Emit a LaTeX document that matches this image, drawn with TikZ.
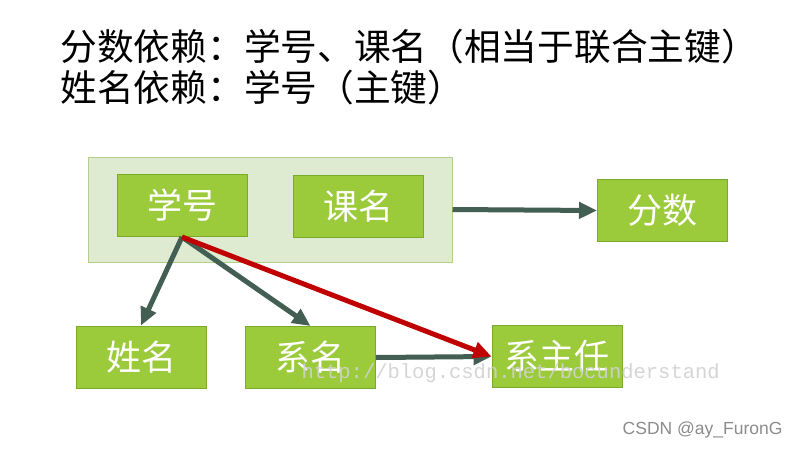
\documentclass[tikz,border=0pt]{standalone}
\usepackage{fontspec}
\usepackage{tikz}
\usetikzlibrary{arrows.meta}
\setmainfont{Liberation Sans}
\newfontfamily\cjk{Noto Sans CJK SC}
\newfontfamily\wmfont{Liberation Mono}
\definecolor{attrgreen}{RGB}{155, 203, 59}
\definecolor{attrborder}{RGB}{122, 170, 40}
\definecolor{keyfill}{RGB}{222, 235, 208}
\definecolor{keyborder}{RGB}{178, 208, 138}
\definecolor{depgray}{RGB}{67, 94, 82}
\definecolor{depred}{RGB}{192, 0, 0}

\begin{document}
\begin{tikzpicture}[x=1pt, y=-1pt,
  attr/.style={draw=attrborder, fill=attrgreen, line width=1pt, text=white,
    font=\cjk\fontsize{35}{35}\selectfont, minimum width=130pt, minimum height=62pt, inner sep=0pt},
  dep/.style={-{Triangle[length=18pt,width=16pt]}, line width=5pt, depgray},
  depkey/.style={dep, depred}]
\useasboundingbox[fill=white] (0,0) rectangle (800,450);

% Title lines
\node[anchor=west, font=\cjk\fontsize{36.7}{36.7}\selectfont] (line1) at (57,47) {分数依赖：学号、课名（相当于联合主键）};
\node[anchor=west, font=\cjk\fontsize{36.7}{36.7}\selectfont] (line2) at (57,88) {姓名依赖：学号（主键）};

% Joint key
\node[draw=keyborder, fill=keyfill, line width=1pt, minimum width=364pt, minimum height=105pt] (key) at (270,209.5) {};
\node[attr] (xh) at (182,205.5) {学号};
\node[attr] (km) at (358.5,206.5) {课名};

% Other attributes
\node[attr] (fs) at (662.5,210.5) {分数};
\node[attr] (xm) at (141,357) {姓名};
\node[attr] (xim) at (310.5,357.5) {系名};
\node[attr] (xzr) at (557,356.5) {系主任};

% Dependencies
\draw[dep] (key.east) -- (fs.west);
\draw[dep] (xh.south) -- (xm.north);
\draw[dep] (xh.south) -- (xim.north);
\draw[dep] (xim.east) -- (xzr.west);
\draw[depkey] (xh.south) -- (xzr.west);

% Watermarks
\node[anchor=west, text=black!18, opacity=0.9, font=\wmfont\fontsize{20.5}{20.5}\selectfont] (wm) at (298,373) {http://blog.csdn.net/bocunderstand};
\node[anchor=east, text=black!45, font=\fontsize{17.5}{17.5}\selectfont] (csdn) at (786,430) {CSDN @ay\_FuronG};
\end{tikzpicture}
\end{document}
